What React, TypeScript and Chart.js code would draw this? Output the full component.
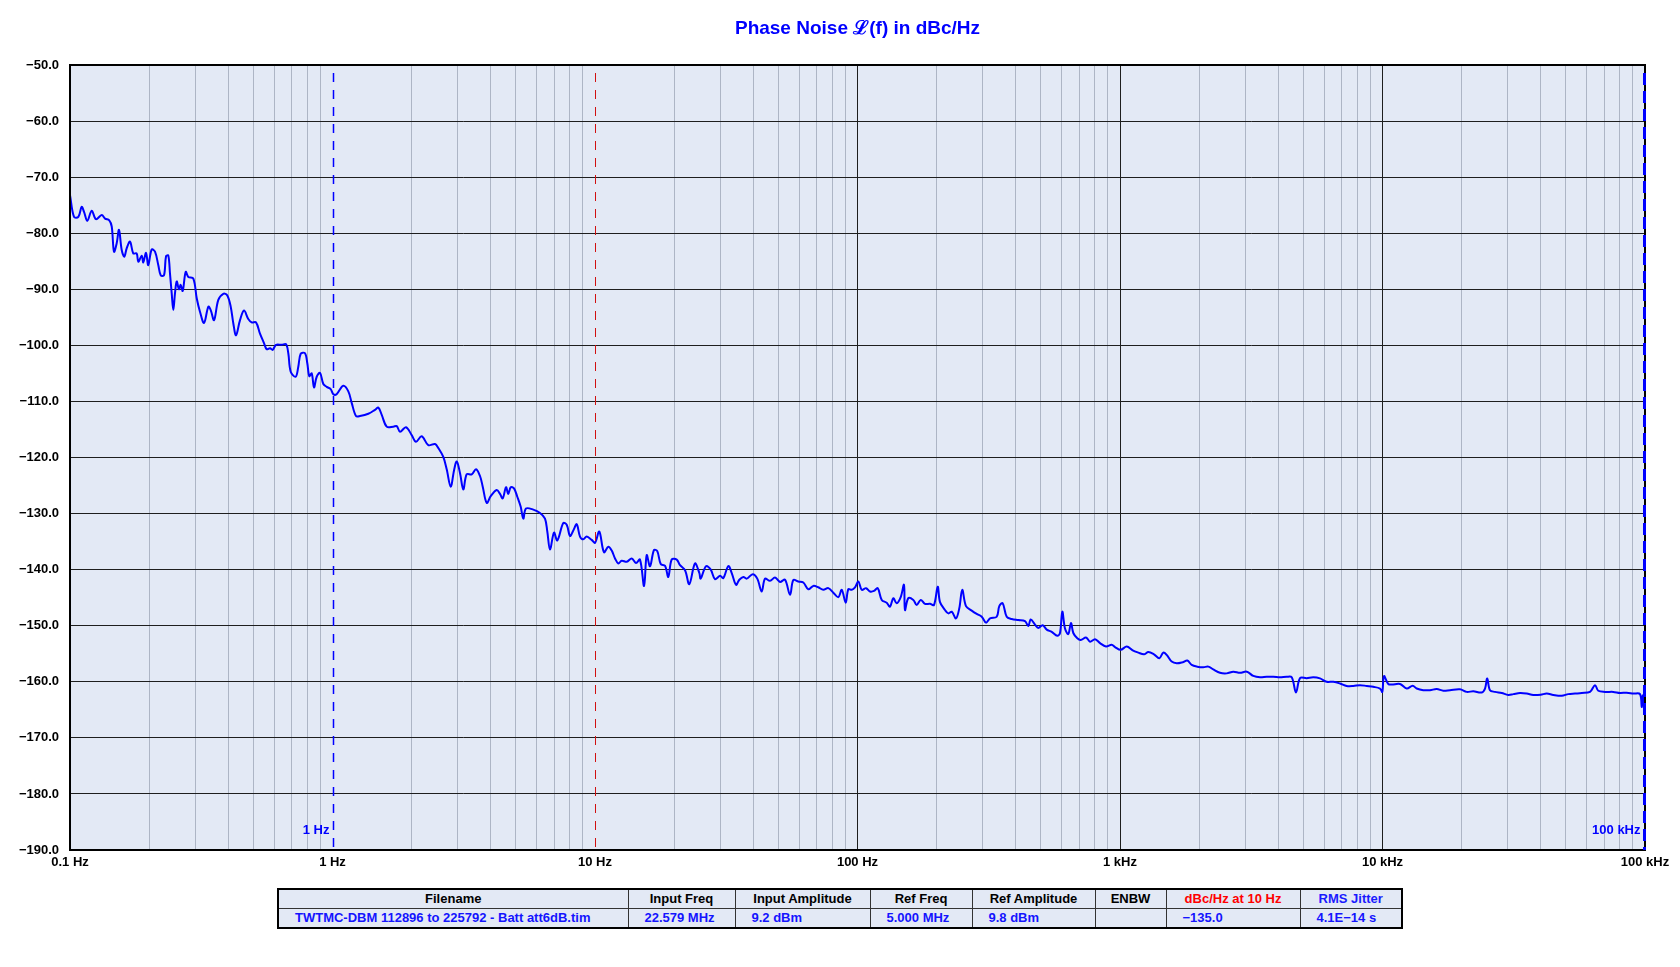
import React, { useEffect, useRef } from "react";
import { Chart, registerables } from "chart.js";

Chart.register(...registerables);

const FREQ_HZ = [
  0.1, 0.1036, 0.1076, 0.1108, 0.1131, 0.1164, 0.1210, 0.1256, 0.1321, 0.1360,
  0.1411, 0.1442, 0.1471, 0.1506, 0.1537, 0.1574, 0.1610, 0.1644, 0.1693, 0.1742,
  0.1795, 0.1820, 0.1876, 0.1902, 0.1948, 0.1987, 0.2047, 0.2108, 0.2170, 0.2216,
  0.2281, 0.2322, 0.2369, 0.2404, 0.2440, 0.2475, 0.2512, 0.2550, 0.2601, 0.2640,
  0.2687, 0.2759, 0.2823, 0.2950, 0.3039, 0.3127, 0.3240, 0.3365, 0.3436, 0.3538,
  0.3673, 0.3837, 0.3974, 0.4095, 0.4190, 0.4290, 0.4443, 0.4602, 0.4777, 0.4922,
  0.5112, 0.5294, 0.5483, 0.5615, 0.5780, 0.5918, 0.6093, 0.6405, 0.6651, 0.6786,
  0.6931, 0.7240, 0.7408, 0.7566, 0.7857, 0.8017, 0.8159, 0.8333, 0.8502, 0.8706,
  0.8965, 0.9226, 0.9504, 0.9842, 1.007, 1.037, 1.099, 1.149, 1.184, 1.229,
  1.273, 1.369, 1.452, 1.495, 1.540, 1.609, 1.705, 1.757, 1.808, 1.905,
  2.003, 2.080, 2.187, 2.317, 2.458, 2.529, 2.643, 2.723, 2.820, 2.904,
  2.973, 3.061, 3.150, 3.245, 3.391, 3.521, 3.647, 3.735, 3.868, 4.006,
  4.222, 4.346, 4.451, 4.581, 4.674, 4.774, 4.914, 5.058, 5.212, 5.332,
  5.459, 5.820, 6.173, 6.449, 6.581, 6.739, 6.980, 7.185, 7.572, 7.802,
  8.032, 8.267, 8.518, 8.768, 9.024, 9.298, 9.714, 10.0, 10.38, 10.82,
  11.24, 11.58, 11.92, 12.27, 12.64, 13.21, 13.80, 14.33, 14.84, 15.38,
  15.74, 16.20, 16.78, 17.27, 17.80, 18.48, 19.02, 19.60, 20.48, 21.08,
  22.03, 22.87, 24.04, 24.97, 25.27, 26.48, 27.60, 28.65, 29.94, 30.82,
  32.20, 33.18, 34.45, 35.46, 36.73, 37.84, 39.88, 41.52, 43.15, 44.42,
  46.42, 48.50, 50.67, 52.94, 55.33, 56.95, 59.50, 62.17, 64.96, 67.86,
  70.91, 74.08, 77.41, 80.87, 84.53, 87.09, 90.16, 92.26, 95.03, 97.84,
  100.7, 103.8, 107.8, 111.6, 115.6, 119.4, 123.7, 129.2, 133.0, 136.9,
  141.0, 146.1, 150.3, 151.7, 156.1, 163.2, 168.1, 174.1, 180.7, 188.9,
  195.6, 202.1, 206.2, 215.4, 221.8, 228.5, 237.2, 244.2, 250.6, 259.0,
  272.3, 284.6, 297.3, 308.7, 319.8, 339.1, 346.9, 357.3, 370.2, 386.8,
  409.9, 434.6, 447.4, 456.9, 474.5, 488.4, 507.6, 525.8, 549.4, 577.1,
  590.8, 602.9, 617.3, 635.3, 650.5, 663.9, 687.6, 708.5, 742.2, 768.7,
  803.2, 839.2, 884.5, 929.8, 957.2, 1006, 1061, 1118, 1174, 1234,
  1282, 1347, 1412, 1462, 1506, 1574, 1644, 1734, 1805, 1876,
  1970, 2077, 2170, 2267, 2404, 2550, 2702, 2865, 3040, 3220,
  3415, 3622, 3837, 4070, 4317, 4510, 4683, 4851, 5143, 5450,
  5780, 6130, 6496, 6889, 7305, 7741, 8210, 8709, 9226, 9784,
  9982, 10132, 10522, 10840, 11660, 12370, 13030, 13500, 14300, 15170,
  16090, 17050, 18070, 19730, 20930, 22180, 23880, 24580, 25060, 25670,
  26830, 28460, 30150, 31510, 33410, 35430, 37540, 40060, 42220, 44730,
  48160, 51040, 54120, 57410, 61730, 64490, 66390, 70400, 75720, 80320,
  85170, 90240, 95720, 97140, 98270, 100000,
];

const PHASE_NOISE_DBC = [
  -73.2, -77.1, -77.1, -75.3, -76.2, -77.8, -76.0, -77.5, -76.75, -77.4,
  -77.7, -78.8, -83.3, -81.8, -79.4, -83.0, -84.2, -82.7, -81.5, -83.6,
  -83.6, -85.1, -84.0, -85.2, -83.5, -85.7, -82.9, -83.3, -85.7, -87.5,
  -87.5, -84.1, -84.0, -87.2, -90.7, -93.7, -90.7, -88.6, -90.0, -89.2,
  -90.3, -86.9, -87.8, -88.1, -91.6, -94.0, -96.0, -93.1, -93.7, -95.5,
  -91.9, -90.8, -91.1, -93.1, -96.1, -98.2, -95.5, -93.8, -95.3, -95.9,
  -95.9, -97.9, -99.6, -100.7, -100.5, -100.8, -99.9, -99.9, -99.8, -101.4,
  -104.7, -105.6, -103.8, -101.5, -101.4, -103.2, -105.5, -105.0, -107.5, -105.6,
  -104.9, -106.9, -107.4, -107.8, -108.7, -108.7, -107.2, -108.2, -110.3, -112.6,
  -112.6, -112.2, -111.5, -111.1, -112.4, -114.5, -114.5, -114.4, -115.4, -114.6,
  -116.0, -117.2, -116.2, -117.8, -117.6, -118.3, -119.9, -122.1, -125.2, -122.3,
  -120.7, -122.8, -125.7, -123.0, -123.0, -122.1, -123.3, -125.2, -128.1, -126.9,
  -125.8, -126.5, -127.3, -125.3, -126.5, -125.3, -125.5, -127.0, -128.8, -130.9,
  -129.1, -129.3, -129.9, -130.9, -133.2, -136.4, -133.4, -134.8, -131.7, -132.0,
  -134.0, -133.0, -131.9, -134.1, -134.6, -134.1, -134.7, -135.2, -133.2, -136.9,
  -135.9, -136.6, -138.0, -138.9, -138.4, -138.6, -138.0, -138.8, -138.2, -142.9,
  -137.4, -139.4, -136.5, -136.7, -139.0, -139.3, -141.3, -138.2, -138.2, -139.2,
  -140.1, -142.6, -138.9, -140.6, -141.6, -139.4, -140.0, -141.7, -141.1, -141.5,
  -139.35, -140.6, -142.7, -141.8, -141.3, -141.6, -140.8, -141.6, -143.9, -141.6,
  -142.0, -141.4, -142.2, -141.8, -144.5, -141.85, -142.1, -142.3, -143.5, -142.9,
  -143.15, -143.6, -143.3, -144.1, -144.9, -143.6, -145.9, -143.5, -143.6, -143.15,
  -142.1, -143.6, -143.3, -143.9, -143.8, -143.3, -145.4, -145.9, -146.6, -145.1,
  -146.0, -144.9, -142.7, -147.2, -145.1, -145.4, -146.3, -145.4, -146.1, -146.1,
  -146.3, -143.05, -145.8, -147.2, -147.8, -147.5, -148.7, -146.9, -143.6, -146.5,
  -147.3, -147.9, -148.4, -149.45, -148.7, -148.4, -146.5, -146.0, -148.4, -148.8,
  -149.0, -149.2, -150.05, -148.9, -149.8, -150.4, -149.9, -150.7, -151.1, -151.8,
  -151.3, -147.5, -150.5, -151.5, -149.5, -151.3, -152.25, -152.55, -152.1, -152.85,
  -152.4, -153.1, -153.7, -153.4, -153.8, -154.3, -153.7, -154.4, -154.8, -155.1,
  -154.7, -155.1, -155.8, -154.8, -155.2, -156.4, -156.7, -156.5, -156.2, -157.0,
  -157.3, -157.4, -157.3, -157.8, -158.4, -158.5, -158.2, -158.4, -158.2, -158.95,
  -159.2, -159.1, -159.1, -159.2, -159.1, -159.2, -161.9, -159.35, -159.35, -159.2,
  -159.4, -160.0, -160.0, -160.3, -160.75, -160.75, -160.6, -160.75, -160.9, -161.2,
  -161.8, -159.0, -160.4, -160.5, -160.4, -161.2, -160.7, -161.2, -161.5, -161.5,
  -161.3, -161.6, -161.5, -161.35, -161.8, -161.7, -161.9, -161.2, -159.4, -161.5,
  -161.8, -162.0, -162.35, -162.2, -162.0, -162.1, -162.35, -162.3, -162.1, -162.35,
  -162.5, -162.2, -162.1, -162.0, -161.8, -160.6, -161.6, -161.8, -161.8, -162.0,
  -161.95, -162.1, -162.2, -164.5, -162.4, -165.5,
];

const X_DECADES = [0.1, 1, 10, 100, 1000, 10000, 100000];
const X_TICK_LABELS = ["0.1 Hz", "1 Hz", "10 Hz", "100 Hz", "1 kHz", "10 kHz", "100 kHz"];
const Y_MIN = -190;
const Y_MAX = -50;
const Y_STEP = 10;

const MARKER_FREQS = [1, 10, 100000];
const MARKER_LABELS = ["1 Hz", "", "100 kHz"];

const TITLE = "Phase Noise \u2112(f) in dBc/Hz";

const TABLE_HEADERS = [
  "Filename",
  "Input Freq",
  "Input Amplitude",
  "Ref Freq",
  "Ref Amplitude",
  "ENBW",
  "dBc/Hz at 10 Hz",
  "RMS Jitter",
];
const TABLE_VALUES = [
  "TWTMC-DBM 112896 to 225792 - Batt att6dB.tim",
  "22.579 MHz",
  "9.2 dBm",
  "5.000 MHz",
  "9.8 dBm",
  "",
  "\u2212135.0",
  "4.1E\u221214 s",
];

const FONT = "Arial, 'Liberation Sans', Helvetica, sans-serif";
const BG = "#e3e9f5";
const COL_WIDTHS = [350, 107, 135, 102, 123, 71, 134, 102];
const HEADER_COLORS = ["#000", "#000", "#000", "#000", "#000", "#000", "#ff0000", "#1a1aff"];

export default function App() {
  const ref = useRef<HTMLCanvasElement>(null);

  useEffect(() => {
    const canvas = ref.current;
    if (!canvas) return;

    const decadeIndex = (v: number) =>
      X_DECADES.findIndex((d) => Math.abs(v / d - 1) < 1e-6);

    const frame = {
      id: "plotFrame",
      beforeDraw(chart: any) {
        const { ctx, chartArea: a } = chart;
        ctx.save();
        ctx.fillStyle = BG;
        ctx.fillRect(a.left, a.top, a.right - a.left, a.bottom - a.top);
        ctx.restore();
      },
      afterDatasetsDraw(chart: any) {
        const { ctx, chartArea: a } = chart;
        const xs = chart.scales.x;
        ctx.save();
        ctx.strokeStyle = "#000";
        ctx.lineWidth = 2;
        ctx.strokeRect(a.left, a.top, a.right - a.left, a.bottom - a.top);

        MARKER_FREQS.forEach((f, i) => {
          const px = Math.round(xs.getPixelForValue(f)) + (i === 2 ? -0.5 : 0.5);
          ctx.beginPath();
          if (i === 1) {
            ctx.strokeStyle = "#d01010";
            ctx.lineWidth = 1;
            ctx.setLineDash([9, 8]);
          } else if (i === 0) {
            ctx.strokeStyle = "#0000ff";
            ctx.lineWidth = 1.5;
            ctx.setLineDash([9, 8]);
          } else {
            ctx.strokeStyle = "#0000ff";
            ctx.lineWidth = 3;
            ctx.setLineDash([12, 6]);
          }
          ctx.moveTo(px, a.top + 8);
          ctx.lineTo(px, a.bottom);
          ctx.stroke();
          ctx.setLineDash([]);
          const label = MARKER_LABELS[i];
          if (label) {
            ctx.fillStyle = "#0000ff";
            ctx.font = `bold 13px ${FONT}`;
            ctx.textAlign = "right";
            ctx.textBaseline = "middle";
            ctx.fillText(label, px - 4, a.bottom - 20);
          }
        });
        ctx.restore();
      },
    };

    const chart = new Chart(canvas, {
      type: "line",
      data: {
        datasets: [
          {
            label: "Phase noise",
            data: FREQ_HZ.map((f, i) => ({ x: f, y: PHASE_NOISE_DBC[i] })),
            borderColor: "#0000ff",
            backgroundColor: "#0000ff",
            borderWidth: 2,
            pointRadius: 0,
            tension: 0.35,
            fill: false,
          },
        ],
      },
      options: {
        responsive: false,
        animation: false,
        devicePixelRatio: 1,
        layout: { padding: { left: 0, right: 35, top: 0, bottom: 87 } },
        plugins: {
          legend: { display: false },
          tooltip: { enabled: false },
          title: {
            display: true,
            text: TITLE,
            color: "#0000ff",
            fullSize: false,
            font: { family: FONT, size: 19, weight: "bold" },
            padding: { top: 17, bottom: 25.2 },
          },
        },
        scales: {
          x: {
            type: "logarithmic",
            min: X_DECADES[0],
            max: X_DECADES[X_DECADES.length - 1],
            afterBuildTicks: (axis: any) => {
              const t: { value: number }[] = [];
              X_DECADES.forEach((d, i) => {
                t.push({ value: d });
                if (i < X_DECADES.length - 1) {
                  for (let k = 2; k < 10; k++) t.push({ value: d * k });
                }
              });
              axis.ticks = t;
            },
            afterFit: (axis: any) => {
              axis.height = 30;
            },
            border: { display: false },
            grid: {
              drawTicks: false,
              lineWidth: 1,
              color: (ctx: any) => {
                const v = ctx.tick ? ctx.tick.value : 0;
                const i = decadeIndex(v);
                if (i < 0) return "#adb5c5";
                if (i === 1 || i === 2) return "rgba(0,0,0,0)";
                return "#1e1e1e";
              },
            },
            ticks: {
              autoSkip: false,
              maxRotation: 0,
              minRotation: 0,
              padding: 5,
              color: "#000",
              font: { family: FONT, size: 13, weight: "bold" },
              callback: (v: any) => {
                const i = decadeIndex(Number(v));
                return i >= 0 ? X_TICK_LABELS[i] : "";
              },
            },
          },
          y: {
            type: "linear",
            min: Y_MIN,
            max: Y_MAX,
            afterFit: (axis: any) => {
              axis.width = 70;
            },
            border: { display: false },
            grid: { drawTicks: false, color: "#1e1e1e", lineWidth: 1 },
            ticks: {
              stepSize: Y_STEP,
              padding: 11,
              color: "#000",
              font: { family: FONT, size: 13, weight: "bold" },
              callback: (v: any) =>
                (Number(v) < 0 ? "\u2212" : "") + Math.abs(Number(v)).toFixed(1),
            },
          },
        },
      },
      plugins: [frame],
    } as any);

    return () => chart.destroy();
  }, []);

  const cellBase: React.CSSProperties = {
    border: "1px solid #333",
    height: 18,
    lineHeight: "18px",
    whiteSpace: "nowrap",
    overflow: "hidden",
  };

  return (
    <div
      style={{
        position: "absolute",
        left: 0,
        top: 0,
        width: 1680,
        height: 967,
        background: "#fff",
      }}
    >
      <canvas ref={ref} width={1680} height={967} style={{ display: "block" }} />
      <table
        style={{
          position: "absolute",
          left: 277,
          top: 888,
          width: 1124,
          borderCollapse: "collapse",
          tableLayout: "fixed",
          border: "2px solid #000",
          background: BG,
          fontFamily: FONT,
          fontWeight: "bold",
          fontSize: 13,
        }}
      >
        <colgroup>
          {COL_WIDTHS.map((w, i) => (
            <col key={i} style={{ width: w }} />
          ))}
        </colgroup>
        <tbody>
          <tr>
            {TABLE_HEADERS.map((h, i) => (
              <td
                key={i}
                style={{ ...cellBase, textAlign: "center", padding: 0, color: HEADER_COLORS[i] }}
              >
                {h}
              </td>
            ))}
          </tr>
          <tr>
            {TABLE_VALUES.map((v, i) => (
              <td
                key={i}
                style={{ ...cellBase, textAlign: "left", padding: "0 0 0 16px", color: "#1414ff" }}
              >
                {v}
              </td>
            ))}
          </tr>
        </tbody>
      </table>
    </div>
  );
}
